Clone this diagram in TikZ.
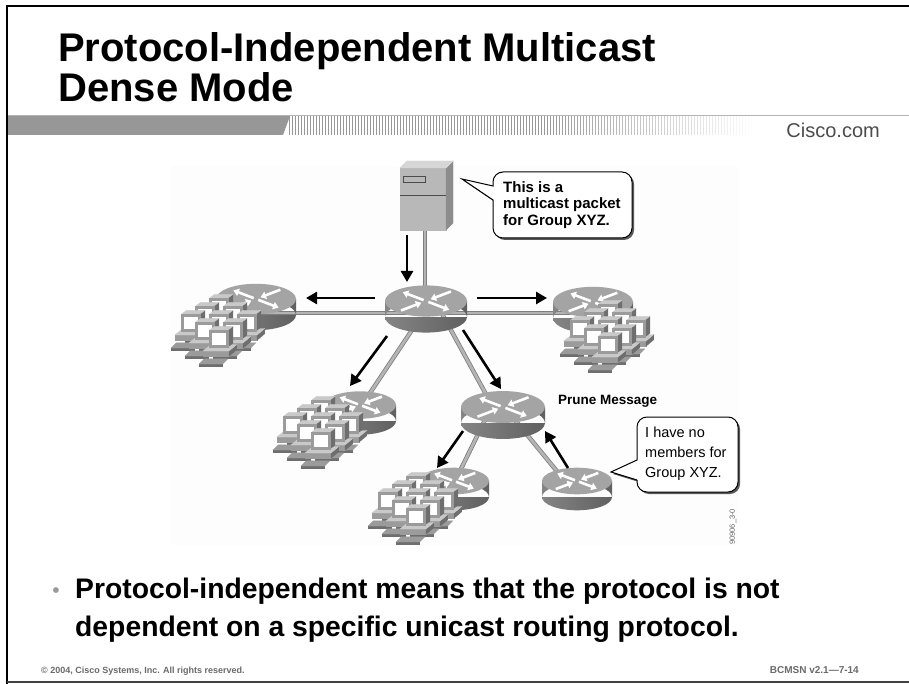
\documentclass[tikz,border=0pt]{standalone}
\usepackage{fontspec}
\setmainfont{Liberation Sans}
\usetikzlibrary{arrows.meta,calc}

\definecolor{bandgray}{HTML}{979797}
\definecolor{linkfill}{HTML}{B4B4B4}
\definecolor{linkedge}{HTML}{7E7E7E}
\definecolor{rtop}{HTML}{A4A4A4}
\definecolor{rbodyL}{HTML}{858585}
\definecolor{rbodyR}{HTML}{606060}
\definecolor{pclight}{HTML}{C9C9C9}
\definecolor{pcmid}{HTML}{9B9B9B}
\definecolor{pcdark}{HTML}{6E6E6E}
\definecolor{footgray}{HTML}{6A6A6A}

% router: cylinder with the four white arrows on its top face
\newcommand{\drawrouter}[2]{%
  \begin{scope}[shift={(#1)}]
    \shade[left color=rbodyL, right color=rbodyR]
      (0,16) ellipse ({#2} and {0.38*#2}) (-#2,0) rectangle (#2,16);
    \fill[rtop] (0,0) ellipse ({#2} and {0.38*#2});
    \begin{scope}[yscale=0.38]
      \foreach \a in {45,225}
        {\draw[rarrow] (\a:{0.08*#2}) -- (\a:{0.8*#2});}
      \foreach \a in {135,315}
        {\draw[rarrow] (\a:{0.86*#2}) -- (\a:{0.16*#2});}
    \end{scope}
  \end{scope}}

% one workstation: desktop box, keyboard and monitor
\newcommand{\drawpc}[2]{%
  \begin{scope}[shift={(#1,#2)}, scale=1.3, every path/.style={draw=black!80, line width=0.35pt}]
    \fill[pcdark] (-3,10) -- (15,10) -- (15,12) -- (-3,12) -- cycle;
    \fill[pcmid] (-3,10) -- (15,10) -- (19,6) -- (1,6) -- cycle;
    \fill[pcmid] (0,0) rectangle (20,4);
    \fill[pcdark] (20,0) -- (26,-5) -- (26,-1) -- (20,4) -- cycle;
    \fill[pclight] (0,0) -- (20,0) -- (26,-5) -- (6,-5) -- cycle;
    \fill[pcdark] (19,-3) -- (23,-6) -- (23,-19) -- (19,-16) -- cycle;
    \fill[pclight] (5,-16) -- (19,-16) -- (23,-19) -- (9,-19) -- cycle;
    \fill[pcmid] (5,-3) rectangle (19,-16);
    \fill[white] (7,-5) rectangle (17,-14);
  \end{scope}}

% a group of nine workstations, drawn back to front
\newcommand{\drawpcs}[2]{%
  \foreach \i/\j in {0/0,1/0,0/1,2/0,1/1,0/2,2/1,1/2,2/2}
    {\drawpc{{#1+14*\i-14*\j}}{{#2+8*\i+8*\j}}}}

\begin{document}
\begin{tikzpicture}[x=1pt,y=-1pt,
  link/.style={draw=linkedge, line width=0.8pt, double=linkfill, double distance=2.8pt},
  flow/.style={line width=2.6pt, -{Triangle[length=11pt,width=12pt]}},
  rarrow/.style={white, line width=2.6pt, -{Triangle[length=5.5pt,width=7.5pt]}},
  callout/.style={fill=white, draw=black, line width=1pt},
  calloutshadow/.style={fill=black!65},
  titletext/.style={anchor=base west, inner sep=0, font=\fontsize{40}{40}\selectfont\bfseries},
  bodytext/.style={anchor=base west, inner sep=0, font=\fontsize{28.3}{28.3}\selectfont\bfseries},
  foottext/.style={inner sep=0, text=footgray, font=\fontsize{9}{9}\selectfont\bfseries}]

\useasboundingbox (0,0) rectangle (909,684);
\fill[white] (0,0) rectangle (909,684);

% slide frame
\draw[line width=2.5pt] (7,684) -- (7,6) -- (909,6);
\draw[line width=1.6pt, black!75] (7,682) -- (909,682);

% header band: solid part, then fading stripes
\draw[bandgray!70, line width=1pt] (8,115.5) -- (909,115.5);
\fill[bandgray] (8,116) -- (290,116) -- (283,135) -- (8,135) -- cycle;
\foreach \k in {0,...,155} {
  \pgfmathsetmacro\op{min(1,(155-\k)/70)}
  \fill[bandgray, opacity=\op] ({289+3*\k},116) rectangle ({290.3+3*\k},135);
}

% title and site name
\node[titletext] (title1) at (58,62) {Protocol-Independent Multicast};
\node[titletext] (title2) at (58,102) {Dense Mode};
\node[anchor=base east, inner sep=0, text=black!70, font=\fontsize{20}{20}\selectfont] (site) at (880,138) {Cisco.com};

% diagram backdrop
\fill[black!0.8] (171,166) rectangle (738,545);

% device positions
\coordinate (srv) at (425,230);
\coordinate (r0) at (426,301);
\coordinate (r1) at (256,299);
\coordinate (r2) at (593,302);
\coordinate (r3) at (360,405);
\coordinate (r4) at (503,407);
\coordinate (r5) at (454,481);
\coordinate (r6) at (577,481);

% links
\draw[link] (srv) -- (425,300);
\draw[link] ($(r1)+(0,14)$) -- ($(r2)+(0,11)$);
\draw[link] ($(r0)+(-6,17)$) -- ($(r3)+(2,0)$);
\draw[link] ($(r0)+(14,9)$) -- ($(r4)+(-15,-9)$);
\draw[link] ($(r4)+(-18,13)$) -- ($(r5)+(4,-6)$);
\draw[link] ($(r4)+(12,13)$) -- ($(r6)+(-17,-6)$);

% server
\begin{scope}[every path/.style={draw=black!70, line width=0.4pt}]
  \fill[black!28] (400,168) rectangle (446,230);
  \fill[black!45] (446,168) -- (453,161) -- (453,223) -- (446,230) -- cycle;
  \fill[black!16] (400,168) -- (407,161) -- (453,161) -- (446,168) -- cycle;
  \draw (403,176) rectangle (425,182);
  \draw (400,195) -- (446,195);
\end{scope}

% routers
\drawrouter{r0}{41}
\drawrouter{r1}{40}
\drawrouter{r2}{40}
\drawrouter{r3}{36}
\drawrouter{r4}{42}
\drawrouter{r5}{35}
\drawrouter{r6}{35}

% workstation groups
\drawpcs{203}{319}
\drawpcs{305}{421}
\drawpcs{400}{497}
\drawpcs{592}{325}

% multicast flow and prune
\coordinate (a0s) at (407,235); \coordinate (a0e) at (407,282);
\coordinate (a1s) at (375,298); \coordinate (a1e) at (306,298);
\coordinate (a2s) at (477,298); \coordinate (a2e) at (547,298);
\coordinate (a3s) at (387,336); \coordinate (a3e) at (350,386);
\coordinate (a4s) at (463,330); \coordinate (a4e) at (501,389);
\coordinate (a5s) at (463,431); \coordinate (a5e) at (437,468);
\coordinate (a6s) at (568,468); \coordinate (a6e) at (545,431);
\draw[flow] (a0s) -- (a0e);
\draw[flow] (a1s) -- (a1e);
\draw[flow] (a2s) -- (a2e);
\draw[flow] (a3s) -- (a3e);
\draw[flow] (a4s) -- (a4e);
\draw[flow] (a5s) -- (a5e);
\draw[flow] (a6s) -- (a6e);

\node[anchor=base west, inner sep=0, font=\fontsize{13.5}{13.5}\selectfont\bfseries] (prune) at (558,404) {Prune Message};

% speech bubbles
\coordinate (tip1) at (462,179);
\fill[calloutshadow] ($(tip1)+(2,2)$) -- (495,188) [rounded corners=10pt] -- (495,174) -- (634,174) -- (634,240) -- (495,240) [sharp corners] -- (495,202) -- cycle;
\draw[callout] (493,200) -- (tip1) -- (493,186) [rounded corners=10pt] -- (493,172) -- (632,172) -- (632,238) -- (493,238) -- (493,200);
\node[anchor=north west, inner sep=0, align=left, font=\fontsize{15}{16.8}\selectfont\bfseries] (msg1) at (503,181) {This is a\\multicast packet\\for Group XYZ.};

\coordinate (tip2) at (611,472);
\fill[calloutshadow] ($(tip2)+(2,2)$) -- (639,462) [rounded corners=10pt] -- (639,419) -- (740,419) -- (740,494) -- (639,494) [sharp corners] -- (639,482) -- cycle;
\draw[callout] (637,480) -- (tip2) -- (637,460) [rounded corners=10pt] -- (637,417) -- (738,417) -- (738,492) -- (637,492) -- (637,480);
\node[anchor=north west, inner sep=0, align=left, font=\fontsize{14.5}{20}\selectfont] (msg2) at (645,426.5) {I have no\\members for\\Group XYZ.};

\node[rotate=90, anchor=west, inner sep=0, text=black!60, font=\fontsize{7.5}{7.5}\selectfont] (figid) at (733,545) {90906\_3-0};

% bullet text
\node[anchor=base, inner sep=0, text=black!40, font=\fontsize{21}{21}\selectfont] (dot) at (56,597) {•};
\node[bodytext] (line1) at (75,598) {Protocol-independent means that the protocol is not};
\node[bodytext] (line2) at (75,636) {dependent on a specific unicast routing protocol.};

% footer
\node[foottext, anchor=base west] (copy) at (41,673) {© 2004, Cisco Systems, Inc. All rights reserved.};
\node[foottext, anchor=base east, font=\fontsize{10}{10}\selectfont\bfseries] (course) at (859,673) {BCMSN v2.1—7-14};
\end{tikzpicture}
\end{document}
